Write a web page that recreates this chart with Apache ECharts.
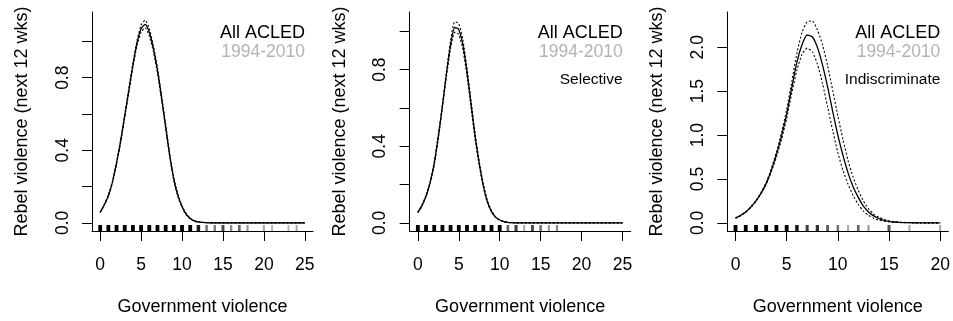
<!DOCTYPE html>
<html><head><meta charset="utf-8">
<script src="https://cdn.jsdelivr.net/npm/echarts@6/dist/echarts.min.js"></script>
<style>html,body{margin:0;padding:0;background:#fff}#c{width:953px;height:321px}</style>
</head><body><div id="c"></div><script>
// ---- data ----
const headline = 'All ACLED';
const period = '1994-2010';
const panelTags = ['', 'Selective', 'Indiscriminate'];
const xTitle = 'Government violence';
const yTitle = 'Rebel violence (next 12 wks)';

const p1X = [0,0.5,1,1.5,2,2.5,3,3.5,4,4.5,5,5.5,6,6.5,7,7.5,8,8.5,9,9.5,10,10.5,11,11.5,12,13,14,16,18,20,22,25];
const p1Fit = [0.058,0.10,0.15,0.225,0.33,0.45,0.59,0.73,0.87,0.99,1.07,1.094,1.05,0.96,0.84,0.69,0.53,0.37,0.24,0.15,0.09,0.048,0.024,0.011,0.005,0.001,0,0,0,0,0,0];
const p1Hi  = [0.060,0.103,0.154,0.23,0.336,0.458,0.60,0.742,0.882,1.005,1.09,1.117,1.07,0.977,0.855,0.703,0.542,0.38,0.248,0.156,0.094,0.051,0.026,0.012,0.006,0.001,0,0,0,0,0,0];
const p1Lo  = [0.056,0.097,0.146,0.22,0.324,0.442,0.58,0.718,0.858,0.975,1.05,1.075,1.03,0.943,0.825,0.677,0.518,0.36,0.232,0.144,0.086,0.045,0.022,0.010,0.004,0.001,0,0,0,0,0,0];
const p1Ticks = [0,5,10,15,20,25];
const p1YTicks = [0,0.2,0.4,0.6,0.8,1.0];
const p1YLabels = [0,0.4,0.8];
const p1RugX = [0,1,2,3,4,5,6,7,8,9,10,11,12,13,14,15,16,17,18,20,21,23,24];
const p1RugD = [1,1,1,1,1,1,1,1,1,1,1,1,0.9,0.55,0.5,0.7,0.45,0.6,0.4,0.35,0.3,0.3,0.35];

const p2X = [0,0.5,1,1.5,2,2.5,3,3.5,4,4.5,5,5.5,6,6.5,7,7.5,8,8.5,9,9.5,10,10.5,11,11.5,12,13,14,16,18,20,22,25];
const p2Fit = [0.055,0.09,0.14,0.21,0.31,0.45,0.61,0.78,0.93,1.02,1.01,0.93,0.79,0.62,0.45,0.31,0.195,0.11,0.06,0.03,0.015,0.007,0.003,0.001,0,0,0,0,0,0,0,0];
const p2Hi  = [0.057,0.093,0.144,0.215,0.318,0.46,0.62,0.795,0.95,1.05,1.04,0.955,0.81,0.637,0.465,0.322,0.203,0.116,0.064,0.032,0.016,0.008,0.003,0.001,0,0,0,0,0,0,0,0];
const p2Lo  = [0.053,0.087,0.136,0.205,0.302,0.44,0.60,0.765,0.91,0.995,0.985,0.905,0.77,0.603,0.435,0.298,0.187,0.104,0.056,0.028,0.014,0.006,0.002,0.001,0,0,0,0,0,0,0,0];
const p2Ticks = [0,5,10,15,20,25];
const p2YTicks = [0,0.2,0.4,0.6,0.8,1.0];
const p2YLabels = [0,0.4,0.8];
const p2RugX = [0,1,2,3,4,5,6,7,8,9,10,11,12,13,14,15,16,17];
const p2RugD = [1,1,1,1,1,1,1,1,1,1,1,0.6,0.75,0.35,0.7,0.55,0.4,0.45];

const p3X = [0,0.5,1,1.5,2,2.5,3,3.5,4,4.5,5,5.5,6,6.5,7,7.5,8,8.5,9,9.5,10,10.5,11,11.5,12,12.5,13,13.5,14,14.5,15,15.5,16,17,18,19,20];
const p3Fit = [0.055,0.085,0.125,0.18,0.25,0.34,0.45,0.60,0.78,0.99,1.24,1.54,1.83,2.03,2.14,2.12,2.00,1.80,1.55,1.27,1.00,0.77,0.57,0.41,0.29,0.19,0.125,0.08,0.05,0.03,0.018,0.01,0.006,0.002,0.001,0,0];
const p3Hi  = [0.057,0.088,0.13,0.185,0.255,0.35,0.46,0.62,0.81,1.03,1.29,1.61,1.93,2.17,2.29,2.30,2.20,2.03,1.79,1.51,1.22,0.95,0.71,0.52,0.37,0.25,0.16,0.10,0.065,0.04,0.025,0.015,0.009,0.003,0.001,0,0];
const p3Lo  = [0.053,0.082,0.12,0.175,0.245,0.33,0.44,0.58,0.75,0.95,1.19,1.48,1.74,1.92,1.99,1.95,1.81,1.59,1.32,1.05,0.80,0.60,0.44,0.31,0.21,0.135,0.085,0.053,0.032,0.02,0.012,0.007,0.004,0.001,0,0,0];
const p3Ticks = [0,5,10,15,20];
const p3YTicks = [0,0.5,1.0,1.5,2.0];
const p3YLabels = [0,0.5,1.0,1.5,2.0];
const p3RugX = [0,1,2,3,4,5,6,7,8,9,10,11,12,13,15,17,20];
const p3RugD = [1,1,1,1,1,1,0.9,0.75,0.8,0.65,0.55,0.35,0.6,0.4,0.7,0.35,0.35];

// ---- layout ----
const FONT = '"Liberation Sans", Arial, Helvetica, sans-serif';
const panels = [
  {x:p1X, fit:p1Fit, hi:p1Hi, lo:p1Lo, xt:p1Ticks, yt:p1YTicks, yl:p1YLabels, rx:p1RugX, rd:p1RugD, xmin:-1, xmax:26, ymin:-0.0447, ymax:1.162},
  {x:p2X, fit:p2Fit, hi:p2Hi, lo:p2Lo, xt:p2Ticks, yt:p2YTicks, yl:p2YLabels, rx:p2RugX, rd:p2RugD, xmin:-1, xmax:26, ymin:-0.0424, ymax:1.101},
  {x:p3X, fit:p3Fit, hi:p3Hi, lo:p3Lo, xt:p3Ticks, yt:p3YTicks, yl:p3YLabels, rx:p3RugX, rd:p3RugD, xmin:-0.8, xmax:20.8, ymin:-0.0924, ymax:2.402}
];
const PW = 953/3, GL = 92, GW = 221, GT = 12, GH = 220;

const grid = [], xAxis = [], yAxis = [], series = [], graphic = [];
panels.forEach((p, i) => {
  const left = GL + PW*i;
  grid.push({left: left, top: GT, width: GW, height: GH});
  xAxis.push({
    gridIndex: i, type: 'value', min: p.xmin, max: p.xmax,
    axisLine: {show: true, onZero: false, lineStyle: {color: '#000', width: 1}},
    axisTick: {show: true, length: 10, customValues: p.xt, lineStyle: {color: '#000', width: 1}},
    axisLabel: {customValues: p.xt, margin: 25, fontSize: 17.5, color: '#000', fontFamily: FONT},
    splitLine: {show: false},
    name: xTitle, nameLocation: 'middle', nameGap: 67,
    nameTextStyle: {fontSize: 18, color: '#000', fontFamily: FONT}
  });
  yAxis.push({
    gridIndex: i, type: 'value', min: p.ymin, max: p.ymax,
    axisLine: {show: true, onZero: false, lineStyle: {color: '#000', width: 1}},
    axisTick: {show: true, length: 10, customValues: p.yt, lineStyle: {color: '#000', width: 1}},
    axisLabel: {customValues: p.yl, rotate: 90, margin: 20, fontSize: 17.5, color: '#000', fontFamily: FONT,
                formatter: v => v.toFixed(1)},
    splitLine: {show: false},
    name: yTitle, nameLocation: 'middle', nameGap: 61,
    nameTextStyle: {fontSize: 18, color: '#000', fontFamily: FONT}
  });
  const mk = arr => p.x.map((v, j) => [v, arr[j]]);
  [p.hi, p.lo].forEach(arr => {
    series.push({type: 'line', xAxisIndex: i, yAxisIndex: i, data: mk(arr), showSymbol: false, silent: true,
      smooth: 0.2, lineStyle: {color: '#000', width: 1.1, type: [2, 2]}});
  });
  series.push({type: 'line', xAxisIndex: i, yAxisIndex: i, data: mk(p.fit), showSymbol: false, silent: true,
    smooth: 0.2, lineStyle: {color: '#000', width: 1.3}});
  series.push({
    type: 'custom', xAxisIndex: i, yAxisIndex: i, silent: true,
    data: p.rx.map((v, j) => [v, p.rd[j]]),
    renderItem: (params, api) => {
      const c = api.coord([api.value(0), 0]);
      const cs = params.coordSys;
      const d = api.value(1);
      const w = 1 + 2.8*d, h = 6;
      return {type: 'rect', shape: {x: c[0] - w/2, y: cs.y + cs.height - h, width: w, height: h},
              style: {fill: 'rgba(0,0,0,' + d + ')'}};
    }
  });
  const rx = left + GW - 8;
  graphic.push({type: 'text', x: rx, y: 33, style: {text: headline, fill: '#000', font: '18px ' + FONT, textAlign: 'right', textVerticalAlign: 'middle'}});
  graphic.push({type: 'text', x: rx, y: 52, style: {text: period, fill: '#b3b3b3', font: '17.5px ' + FONT, textAlign: 'right', textVerticalAlign: 'middle'}});
  if (panelTags[i]) graphic.push({type: 'text', x: rx, y: 80, style: {text: panelTags[i], fill: '#000', font: '15.5px ' + FONT, textAlign: 'right', textVerticalAlign: 'middle'}});
});

const chart = echarts.init(document.getElementById('c'), null, {renderer: 'canvas'});
chart.setOption({animation: false, backgroundColor: '#fff', grid, xAxis, yAxis, series, graphic});
</script></body></html>
